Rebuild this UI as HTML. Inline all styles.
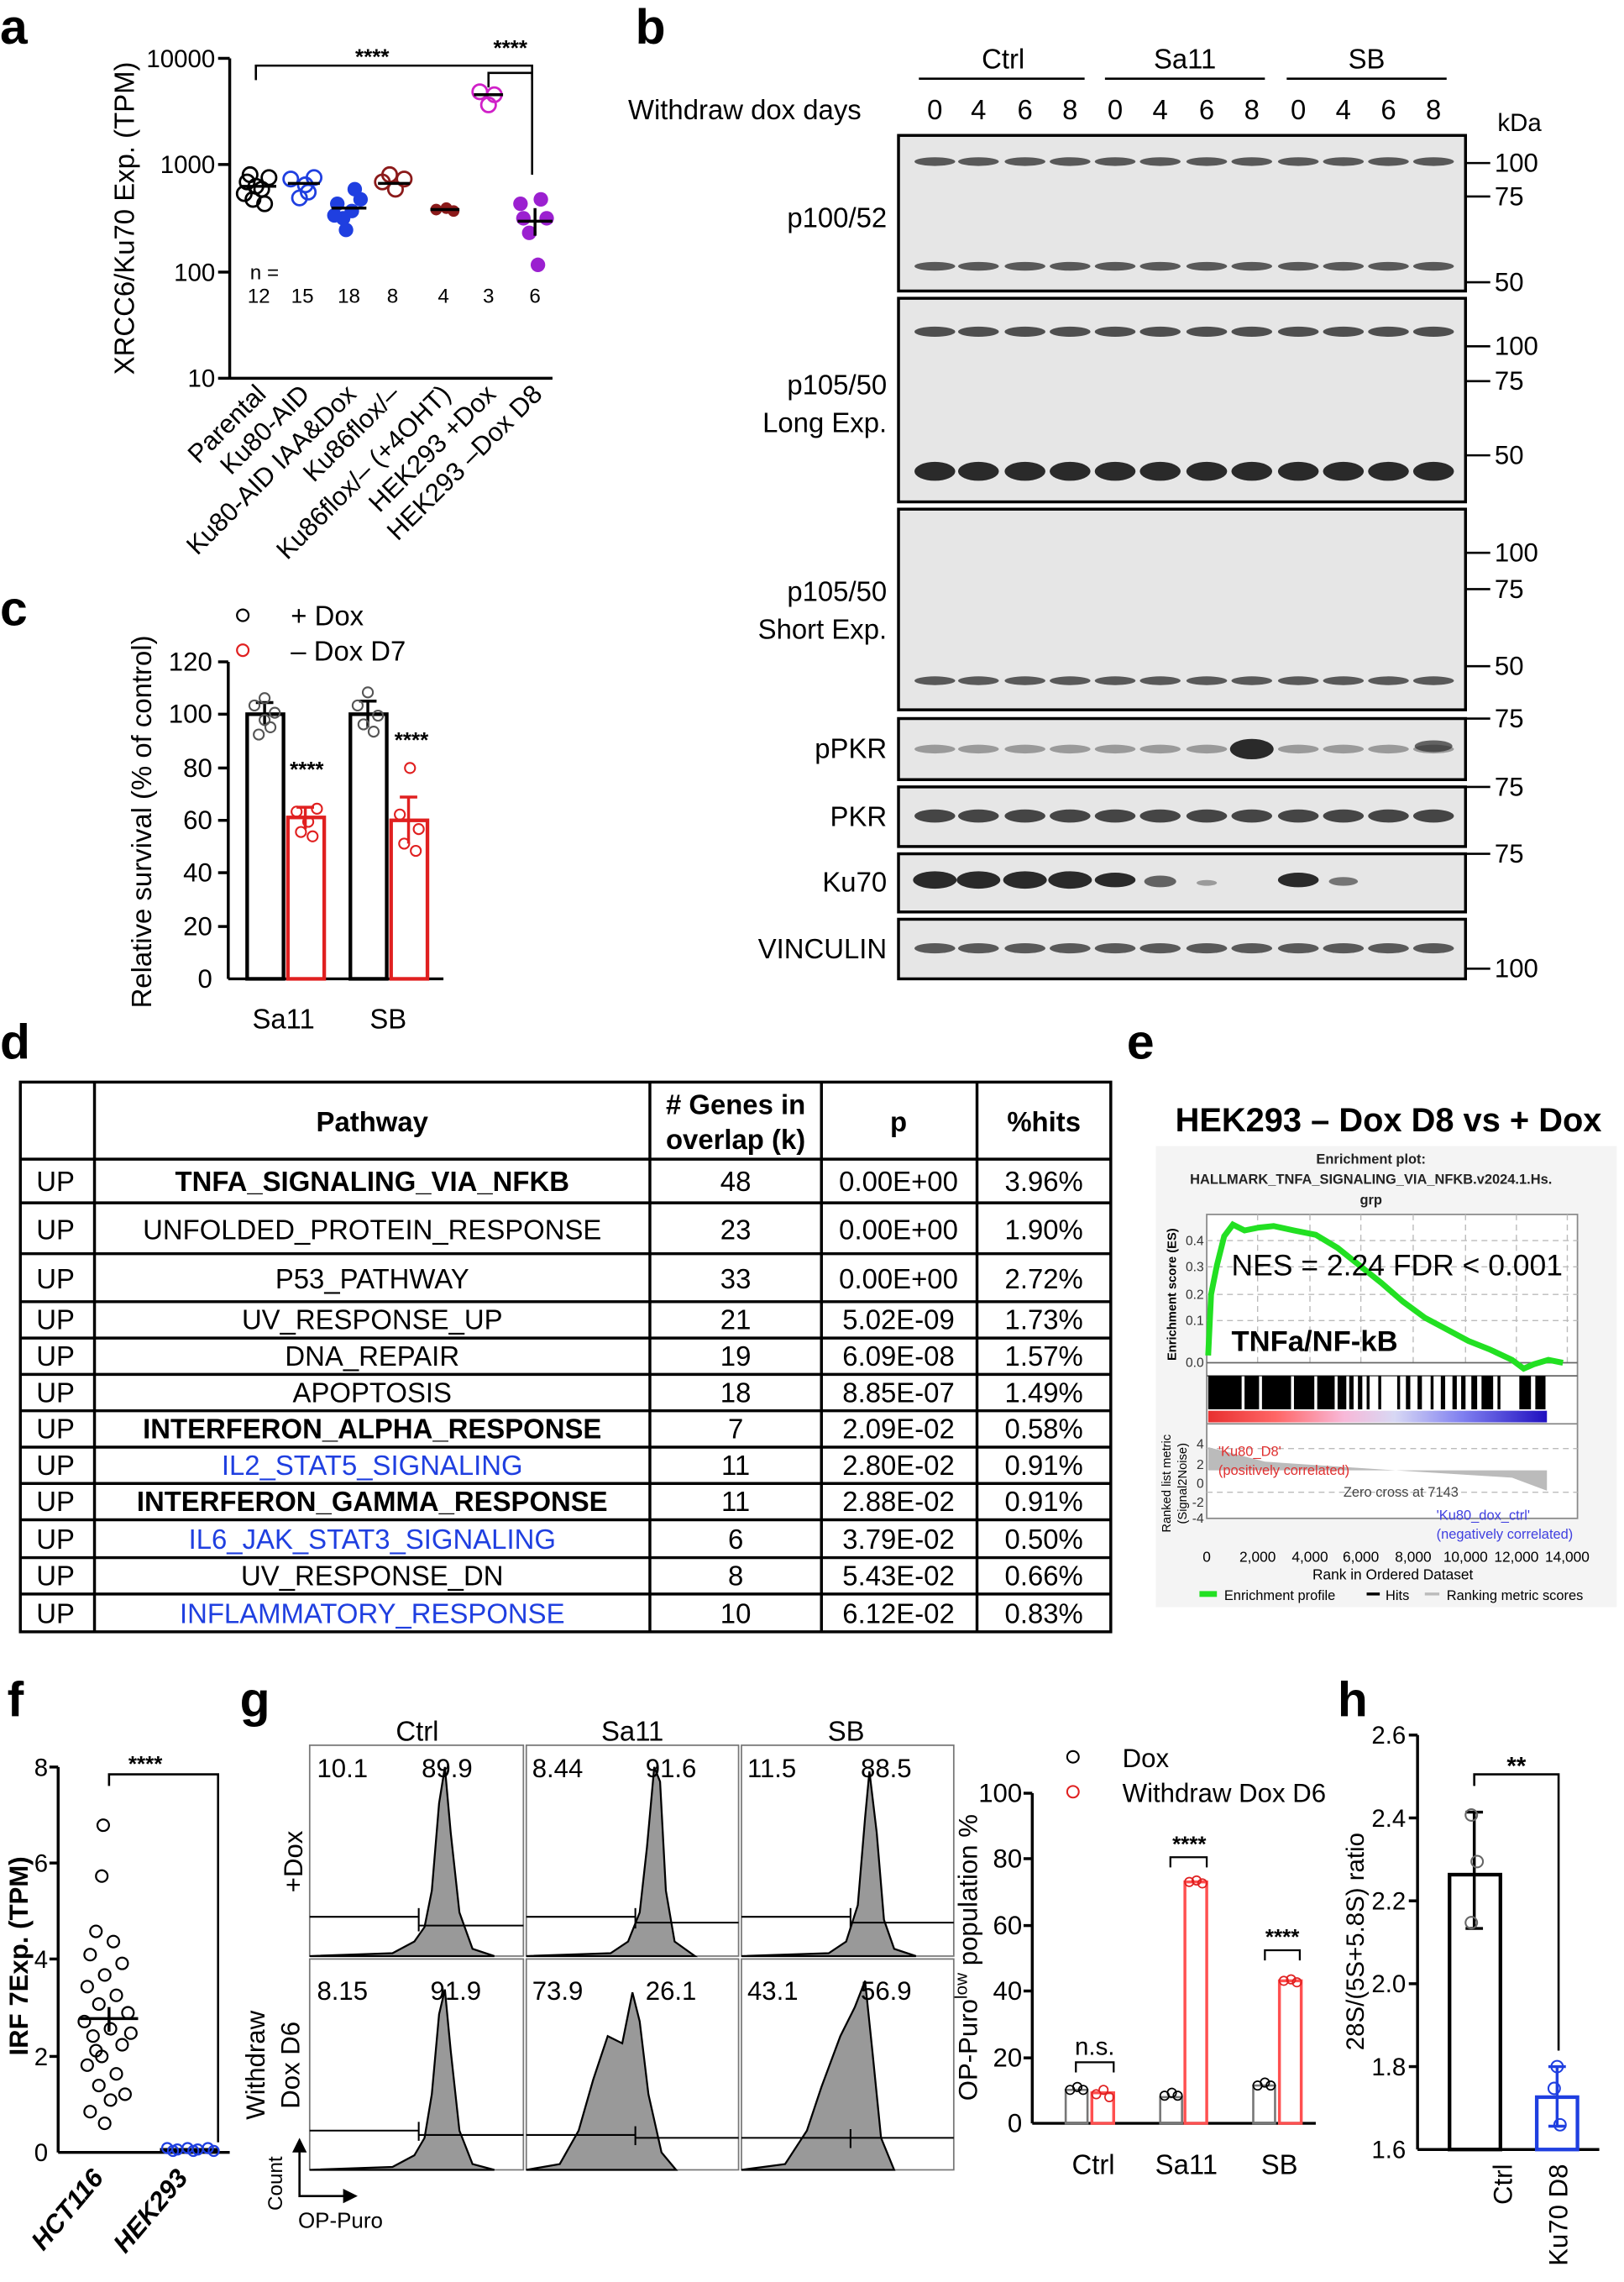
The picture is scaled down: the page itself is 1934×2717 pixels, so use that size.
<!DOCTYPE html>
<html><head><meta charset="utf-8"><style>
html,body{margin:0;padding:0;background:#fff}
svg{display:block}
text{font-family:"Liberation Sans",Arial,sans-serif}
</style></head><body>
<svg width="1934" height="2717" viewBox="0 0 1117 1569" xmlns="http://www.w3.org/2000/svg">
<defs>
<g id="row"><ellipse cx="643" cy="0" rx="14" ry="1"/><ellipse cx="673" cy="0" rx="14" ry="1"/><ellipse cx="705" cy="0" rx="14" ry="1"/><ellipse cx="736" cy="0" rx="14" ry="1"/><ellipse cx="767" cy="0" rx="14" ry="1"/><ellipse cx="798" cy="0" rx="14" ry="1"/><ellipse cx="830" cy="0" rx="14" ry="1"/><ellipse cx="861" cy="0" rx="14" ry="1"/><ellipse cx="893" cy="0" rx="14" ry="1"/><ellipse cx="924" cy="0" rx="14" ry="1"/><ellipse cx="955" cy="0" rx="14" ry="1"/><ellipse cx="986" cy="0" rx="14" ry="1"/></g>
<linearGradient id="cb" x1="0" x2="1"><stop offset="0" stop-color="#e83030"/><stop offset="0.2" stop-color="#f66"/><stop offset="0.4" stop-color="#f8b8d8"/><stop offset="0.55" stop-color="#d8d8f4"/><stop offset="0.75" stop-color="#8080f0"/><stop offset="1" stop-color="#2010c0"/></linearGradient>
</defs>
<rect width="1117" height="1569" fill="#fff"/>
<g font-weight="bold" font-size="34">
<text x="0" y="30">a</text><text x="437" y="30">b</text><text x="0" y="430">c</text>
<text x="0" y="728">d</text><text x="775" y="728">e</text><text x="5" y="1180">f</text>
<text x="165" y="1180">g</text><text x="920" y="1180">h</text></g>

<!-- PANEL A -->
<g stroke="#000" stroke-width="2" fill="none">
<line x1="158" y1="40" x2="158" y2="260"/>
<line x1="150" y1="40" x2="158" y2="40"/><line x1="150" y1="113" x2="158" y2="113"/>
<line x1="150" y1="187" x2="158" y2="187"/><line x1="150" y1="260" x2="158" y2="260"/>
<line x1="158" y1="260" x2="380" y2="260"/>
<polyline points="176,55 176,45 366,45 366,55" stroke-width="1.5"/>
<polyline points="336,60 336,50 366,50 366,120" stroke-width="1.5"/>
</g>
<g font-size="17" text-anchor="end"><text x="148" y="46">10000</text><text x="148" y="119">1000</text><text x="148" y="193">100</text><text x="148" y="266">10</text></g>
<text transform="translate(92,150) rotate(-90)" font-size="19" text-anchor="middle">XRCC6/Ku70 Exp. (TPM)</text>
<text x="256" y="44" font-size="15" text-anchor="middle" font-weight="bold">****</text>
<text x="351" y="38" font-size="15" text-anchor="middle" font-weight="bold">****</text>
<text x="172" y="192" font-size="14">n =</text>
<g font-size="14" text-anchor="middle"><text x="178" y="208">12</text><text x="208" y="208">15</text><text x="240" y="208">18</text><text x="270" y="208">8</text><text x="305" y="208">4</text><text x="336" y="208">3</text><text x="368" y="208">6</text></g>
<g fill="none" stroke-width="1.6">
<g stroke="#000"><circle cx="170" cy="125" r="5"/><circle cx="180" cy="130" r="5"/><circle cx="174" cy="137" r="5"/><circle cx="185" cy="122" r="5"/><circle cx="172" cy="120" r="5"/><circle cx="182" cy="140" r="5"/><circle cx="176" cy="128" r="5"/><circle cx="168" cy="133" r="5"/></g>
<g stroke="#1f3fe0"><circle cx="200" cy="123" r="5"/><circle cx="210" cy="127" r="5"/><circle cx="216" cy="122" r="5"/><circle cx="206" cy="136" r="5"/><circle cx="212" cy="132" r="5"/></g>
<g stroke="#8b1a1a"><circle cx="263" cy="125" r="5"/><circle cx="272" cy="130" r="5"/><circle cx="278" cy="123" r="5"/><circle cx="268" cy="120" r="5"/></g>
<g stroke="#d020c8"><circle cx="330" cy="63" r="5"/><circle cx="340" cy="65" r="5"/><circle cx="336" cy="72" r="5"/></g>
</g>
<g fill="#1f3fe0"><circle cx="232" cy="140" r="5"/><circle cx="242" cy="145" r="5"/><circle cx="236" cy="150" r="5"/><circle cx="248" cy="137" r="5"/><circle cx="238" cy="158" r="5"/><circle cx="244" cy="130" r="5"/><circle cx="230" cy="148" r="5"/></g>
<g fill="#8b1a1a"><circle cx="300" cy="144" r="4"/><circle cx="307" cy="143" r="4"/><circle cx="312" cy="145" r="4"/></g>
<g fill="#9b20d0"><circle cx="358" cy="140" r="5"/><circle cx="372" cy="137" r="5"/><circle cx="364" cy="160" r="5"/><circle cx="370" cy="182" r="5"/><circle cx="360" cy="150" r="5"/><circle cx="376" cy="150" r="5"/></g>
<g stroke="#000" stroke-width="2"><line x1="166" y1="128" x2="190" y2="128"/><line x1="198" y1="126" x2="220" y2="126"/><line x1="228" y1="143" x2="252" y2="143"/><line x1="260" y1="126" x2="282" y2="126"/><line x1="296" y1="144" x2="316" y2="144"/><line x1="326" y1="65" x2="346" y2="65"/><line x1="356" y1="152" x2="380" y2="152"/><line x1="368" y1="143" x2="368" y2="162"/></g>
<g font-size="18" text-anchor="end">
<text transform="translate(184,272) rotate(-45)">Parental</text>
<text transform="translate(214,272) rotate(-45)">Ku80-AID</text>
<text transform="translate(246,272) rotate(-45)">Ku80-AID IAA&amp;Dox</text>
<text transform="translate(276,272) rotate(-45)">Ku86flox/–</text>
<text transform="translate(311,272) rotate(-45)">Ku86flox/– (+4OHT)</text>
<text transform="translate(342,272) rotate(-45)">HEK293 +Dox</text>
<text transform="translate(374,272) rotate(-45)">HEK293 –Dox D8</text>
</g>

<!-- PANEL B -->
<g font-size="19" text-anchor="middle">
<text x="690" y="47">Ctrl</text><text x="815" y="47">Sa11</text><text x="940" y="47">SB</text></g>
<g stroke="#000" stroke-width="1.5"><line x1="632" y1="54" x2="746" y2="54"/><line x1="760" y1="54" x2="870" y2="54"/><line x1="885" y1="54" x2="995" y2="54"/></g>
<text x="432" y="82" font-size="19">Withdraw dox days</text>
<g font-size="19" text-anchor="middle">
<text x="643" y="82">0</text><text x="673" y="82">4</text><text x="705" y="82">6</text><text x="736" y="82">8</text>
<text x="767" y="82">0</text><text x="798" y="82">4</text><text x="830" y="82">6</text><text x="861" y="82">8</text>
<text x="893" y="82">0</text><text x="924" y="82">4</text><text x="955" y="82">6</text><text x="986" y="82">8</text></g>
<text x="1030" y="90" font-size="17">kDa</text>
<g fill="#e6e6e6" stroke="#000" stroke-width="2">
<rect x="618" y="93" width="390" height="107"/><rect x="618" y="205" width="390" height="140"/>
<rect x="618" y="350" width="390" height="138"/><rect x="618" y="494" width="390" height="42"/>
<rect x="618" y="541" width="390" height="41"/><rect x="618" y="587" width="390" height="40"/>
<rect x="618" y="632" width="390" height="41"/></g>
<g fill="#2a2a2a">
<use href="#row" transform="translate(0,111) scale(1,3)" opacity="0.75"/>
<use href="#row" transform="translate(0,183) scale(1,3)" opacity="0.75"/>
<use href="#row" transform="translate(0,228) scale(1,3.5)" opacity="0.8"/>
<use href="#row" transform="translate(0,324) scale(1,6.5)"/>
<use href="#row" transform="translate(0,468) scale(1,3)" opacity="0.75"/>
<use href="#row" transform="translate(0,515) scale(1,3)" opacity="0.4"/>
<ellipse cx="861" cy="515" rx="15" ry="7"/>
<ellipse cx="986" cy="513" rx="13" ry="4" opacity="0.7"/>
<use href="#row" transform="translate(0,561) scale(1,4.5)" opacity="0.85"/>
<use href="#row" transform="translate(0,652) scale(1,3.5)" opacity="0.75"/>
<ellipse cx="643" cy="605" rx="15" ry="6"/><ellipse cx="673" cy="605" rx="15" ry="6"/><ellipse cx="705" cy="605" rx="15" ry="6"/><ellipse cx="736" cy="605" rx="15" ry="6"/>
<ellipse cx="767" cy="605" rx="14" ry="5"/><ellipse cx="798" cy="606" rx="11" ry="4" opacity="0.7"/><ellipse cx="830" cy="607" rx="7" ry="2" opacity="0.4"/>
<ellipse cx="893" cy="605" rx="14" ry="5"/><ellipse cx="924" cy="606" rx="10" ry="3" opacity="0.6"/>
</g>
<g font-size="19" text-anchor="end">
<text x="610" y="156">p100/52</text><text x="610" y="271">p105/50</text><text x="610" y="297">Long Exp.</text>
<text x="610" y="413">p105/50</text><text x="610" y="439">Short Exp.</text>
<text x="610" y="521">pPKR</text><text x="610" y="568">PKR</text><text x="610" y="613">Ku70</text><text x="610" y="659">VINCULIN</text></g>
<g stroke="#000" stroke-width="1.5">
<line x1="1008" y1="112" x2="1025" y2="112"/><line x1="1008" y1="135" x2="1025" y2="135"/><line x1="1008" y1="194" x2="1025" y2="194"/>
<line x1="1008" y1="238" x2="1025" y2="238"/><line x1="1008" y1="262" x2="1025" y2="262"/><line x1="1008" y1="313" x2="1025" y2="313"/>
<line x1="1008" y1="380" x2="1025" y2="380"/><line x1="1008" y1="405" x2="1025" y2="405"/><line x1="1008" y1="458" x2="1025" y2="458"/>
<line x1="1008" y1="494" x2="1025" y2="494"/><line x1="1008" y1="541" x2="1025" y2="541"/><line x1="1008" y1="587" x2="1025" y2="587"/><line x1="1008" y1="666" x2="1025" y2="666"/></g>
<g font-size="18">
<text x="1028" y="118">100</text><text x="1028" y="141">75</text><text x="1028" y="200">50</text>
<text x="1028" y="244">100</text><text x="1028" y="268">75</text><text x="1028" y="319">50</text>
<text x="1028" y="386">100</text><text x="1028" y="411">75</text><text x="1028" y="464">50</text>
<text x="1028" y="500">75</text><text x="1028" y="547">75</text><text x="1028" y="593">75</text><text x="1028" y="672">100</text></g>

<!-- PANEL C -->
<circle cx="167" cy="423" r="4" fill="none" stroke="#000" stroke-width="1.3"/>
<circle cx="167" cy="447" r="4" fill="none" stroke="#e02020" stroke-width="1.3"/>
<text x="200" y="430" font-size="19">+ Dox</text><text x="200" y="454" font-size="19">– Dox D7</text>
<g stroke="#000" stroke-width="2" fill="none">
<line x1="157" y1="455" x2="157" y2="673"/><line x1="157" y1="673" x2="305" y2="673"/>
<line x1="150" y1="455" x2="157" y2="455"/><line x1="150" y1="491" x2="157" y2="491"/><line x1="150" y1="528" x2="157" y2="528"/><line x1="150" y1="564" x2="157" y2="564"/><line x1="150" y1="600" x2="157" y2="600"/><line x1="150" y1="637" x2="157" y2="637"/>
<rect x="170" y="491" width="25" height="182" stroke-width="2.5"/><rect x="241" y="491" width="25" height="182" stroke-width="2.5"/>
<line x1="182" y1="483" x2="182" y2="499"/><line x1="176" y1="483" x2="188" y2="483"/>
<line x1="253" y1="482" x2="253" y2="500"/><line x1="247" y1="482" x2="259" y2="482"/>
</g>
<g stroke="#e02020" stroke-width="2.5" fill="none"><rect x="198" y="562" width="25" height="111"/><rect x="269" y="564" width="25" height="109"/>
<line x1="210" y1="555" x2="210" y2="570" stroke-width="2"/><line x1="204" y1="555" x2="216" y2="555" stroke-width="2"/>
<line x1="281" y1="548" x2="281" y2="580" stroke-width="2"/><line x1="275" y1="548" x2="287" y2="548" stroke-width="2"/></g>
<g fill="none" stroke="#555" stroke-width="1.2"><circle cx="175" cy="485" r="3.5"/><circle cx="182" cy="495" r="3.5"/><circle cx="189" cy="490" r="3.5"/><circle cx="178" cy="505" r="3.5"/><circle cx="186" cy="500" r="3.5"/><circle cx="182" cy="480" r="3.5"/>
<circle cx="246" cy="485" r="3.5"/><circle cx="253" cy="476" r="3.5"/><circle cx="260" cy="492" r="3.5"/><circle cx="250" cy="498" r="3.5"/><circle cx="257" cy="503" r="3.5"/></g>
<g fill="none" stroke="#e02020" stroke-width="1.2"><circle cx="204" cy="558" r="3.5"/><circle cx="212" cy="565" r="3.5"/><circle cx="218" cy="556" r="3.5"/><circle cx="207" cy="572" r="3.5"/><circle cx="215" cy="575" r="3.5"/>
<circle cx="282" cy="528" r="3.5"/><circle cx="275" cy="560" r="3.5"/><circle cx="288" cy="570" r="3.5"/><circle cx="278" cy="580" r="3.5"/><circle cx="286" cy="585" r="3.5"/></g>
<g font-size="18" text-anchor="end"><text x="146" y="461">120</text><text x="146" y="497">100</text><text x="146" y="534">80</text><text x="146" y="570">60</text><text x="146" y="606">40</text><text x="146" y="643">20</text><text x="146" y="679">0</text></g>
<text x="211" y="534" font-size="15" text-anchor="middle" font-weight="bold">****</text>
<text x="283" y="514" font-size="15" text-anchor="middle" font-weight="bold">****</text>
<text transform="translate(104,565) rotate(-90)" font-size="19" text-anchor="middle">Relative survival (% of control)</text>
<text x="195" y="707" font-size="19" text-anchor="middle">Sa11</text><text x="267" y="707" font-size="19" text-anchor="middle">SB</text>

<!-- PANEL D -->
<g stroke="#000" stroke-width="2" fill="none">
<rect x="14" y="744" width="750" height="378"/>
<line x1="65" y1="744" x2="65" y2="1122"/><line x1="447" y1="744" x2="447" y2="1122"/><line x1="565" y1="744" x2="565" y2="1122"/><line x1="672" y1="744" x2="672" y2="1122"/>
<line x1="14" y1="797" x2="764" y2="797"/><line x1="14" y1="827" x2="764" y2="827"/><line x1="14" y1="862" x2="764" y2="862"/><line x1="14" y1="895" x2="764" y2="895"/>
<line x1="14" y1="920" x2="764" y2="920"/><line x1="14" y1="945" x2="764" y2="945"/><line x1="14" y1="970" x2="764" y2="970"/><line x1="14" y1="995" x2="764" y2="995"/>
<line x1="14" y1="1020" x2="764" y2="1020"/><line x1="14" y1="1045" x2="764" y2="1045"/><line x1="14" y1="1071" x2="764" y2="1071"/><line x1="14" y1="1096" x2="764" y2="1096"/>
</g>
<g font-size="19" font-weight="bold" text-anchor="middle"><text x="256" y="778">Pathway</text><text x="506" y="766">#&#160;Genes in</text><text x="506" y="790">overlap (k)</text><text x="618" y="778">p</text><text x="718" y="778">%hits</text></g>
<g font-size="19" text-anchor="middle">
<g text-anchor="start"><text x="25" y="819">UP</text><text x="25" y="852">UP</text><text x="25" y="886">UP</text><text x="25" y="914">UP</text><text x="25" y="939">UP</text><text x="25" y="964">UP</text><text x="25" y="989">UP</text><text x="25" y="1014">UP</text><text x="25" y="1039">UP</text><text x="25" y="1065">UP</text><text x="25" y="1090">UP</text><text x="25" y="1116">UP</text></g>
<text x="256" y="819" font-weight="bold">TNFA_SIGNALING_VIA_NFKB</text>
<text x="256" y="852">UNFOLDED_PROTEIN_RESPONSE</text>
<text x="256" y="886">P53_PATHWAY</text>
<text x="256" y="914">UV_RESPONSE_UP</text>
<text x="256" y="939">DNA_REPAIR</text>
<text x="256" y="964">APOPTOSIS</text>
<text x="256" y="989" font-weight="bold">INTERFERON_ALPHA_RESPONSE</text>
<text x="256" y="1014" fill="#1f3fe0">IL2_STAT5_SIGNALING</text>
<text x="256" y="1039" font-weight="bold">INTERFERON_GAMMA_RESPONSE</text>
<text x="256" y="1065" fill="#1f3fe0">IL6_JAK_STAT3_SIGNALING</text>
<text x="256" y="1090">UV_RESPONSE_DN</text>
<text x="256" y="1116" fill="#1f3fe0">INFLAMMATORY_RESPONSE</text>
<text x="506" y="819">48</text><text x="506" y="852">23</text><text x="506" y="886">33</text><text x="506" y="914">21</text><text x="506" y="939">19</text><text x="506" y="964">18</text><text x="506" y="989">7</text><text x="506" y="1014">11</text><text x="506" y="1039">11</text><text x="506" y="1065">6</text><text x="506" y="1090">8</text><text x="506" y="1116">10</text>
<text x="618" y="819">0.00E+00</text><text x="618" y="852">0.00E+00</text><text x="618" y="886">0.00E+00</text><text x="618" y="914">5.02E-09</text><text x="618" y="939">6.09E-08</text><text x="618" y="964">8.85E-07</text><text x="618" y="989">2.09E-02</text><text x="618" y="1014">2.80E-02</text><text x="618" y="1039">2.88E-02</text><text x="618" y="1065">3.79E-02</text><text x="618" y="1090">5.43E-02</text><text x="618" y="1116">6.12E-02</text>
<text x="718" y="819">3.96%</text><text x="718" y="852">1.90%</text><text x="718" y="886">2.72%</text><text x="718" y="914">1.73%</text><text x="718" y="939">1.57%</text><text x="718" y="964">1.49%</text><text x="718" y="989">0.58%</text><text x="718" y="1014">0.91%</text><text x="718" y="1039">0.91%</text><text x="718" y="1065">0.50%</text><text x="718" y="1090">0.66%</text><text x="718" y="1116">0.83%</text>
</g>

<!-- PANEL E -->
<text x="955" y="778" font-size="23" font-weight="bold" text-anchor="middle">HEK293 – Dox D8 vs + Dox</text>
<rect x="795" y="788" width="317" height="317" fill="#f4f4f4"/>
<g font-size="9.5" font-weight="bold" text-anchor="middle" fill="#222"><text x="943" y="800">Enrichment plot:</text><text x="943" y="814">HALLMARK_TNFA_SIGNALING_VIA_NFKB.v2024.1.Hs.</text><text x="943" y="828">grp</text></g>
<rect x="830" y="835" width="255" height="209" fill="#fff" stroke="#888"/>
<g stroke="#bbb" stroke-dasharray="4,3" stroke-width="0.8"><line x1="865" y1="835" x2="865" y2="937"/><line x1="901" y1="835" x2="901" y2="937"/><line x1="936" y1="835" x2="936" y2="937"/><line x1="972" y1="835" x2="972" y2="937"/><line x1="1008" y1="835" x2="1008" y2="937"/><line x1="1043" y1="835" x2="1043" y2="937"/><line x1="1078" y1="835" x2="1078" y2="937"/>
<line x1="830" y1="853" x2="1085" y2="853"/><line x1="830" y1="871" x2="1085" y2="871"/><line x1="830" y1="890" x2="1085" y2="890"/><line x1="830" y1="908" x2="1085" y2="908"/>
<line x1="830" y1="996" x2="1085" y2="996"/><line x1="830" y1="1026" x2="1085" y2="1026"/></g>
<line x1="830" y1="937" x2="1085" y2="937" stroke="#666"/>
<line x1="830" y1="946" x2="1085" y2="946" stroke="#666"/>
<polyline fill="none" stroke="#22e022" stroke-width="4" points="831,932 833,890 837,870 842,850 848,842 856,846 866,844 876,843 890,846 905,849 920,858 935,870 950,882 965,895 980,906 995,914 1010,922 1025,928 1040,935 1048,941 1055,938 1065,935 1075,937"/>
<g fill="#000">
<rect x="831" y="946" width="23" height="23"/><rect x="856" y="946" width="10" height="23"/><rect x="868" y="946" width="20" height="23"/><rect x="890" y="946" width="14" height="23"/><rect x="906" y="946" width="12" height="23"/><rect x="920" y="946" width="6" height="23"/><rect x="928" y="946" width="3" height="23"/><rect x="934" y="946" width="3" height="23"/><rect x="940" y="946" width="2" height="23"/><rect x="948" y="946" width="2" height="23"/><rect x="961" y="946" width="2" height="23"/><rect x="967" y="946" width="3" height="23"/><rect x="975" y="946" width="3" height="23"/><rect x="984" y="946" width="2" height="23"/><rect x="991" y="946" width="3" height="23"/><rect x="999" y="946" width="3" height="23"/><rect x="1005" y="946" width="3" height="23"/><rect x="1012" y="946" width="4" height="23"/><rect x="1019" y="946" width="8" height="23"/><rect x="1030" y="946" width="2" height="23"/><rect x="1045" y="946" width="8" height="23"/><rect x="1056" y="946" width="7" height="23"/></g>
<rect x="831" y="970" width="233" height="8" fill="url(#cb)"/>
<line x1="830" y1="979" x2="1085" y2="979" stroke="#888"/>
<path d="M831 995 L870 1005 L960 1011 L1040 1016 L1064 1025 L1064 1040 L1064 1011 L831 1011Z" fill="#bbb"/>
<g font-size="9" fill="#333" text-anchor="end"><text x="828" y="856">0.4</text><text x="828" y="874">0.3</text><text x="828" y="893">0.2</text><text x="828" y="911">0.1</text><text x="828" y="940">0.0</text>
<text x="828" y="996">4</text><text x="828" y="1010">2</text><text x="828" y="1023">0</text><text x="828" y="1036">-2</text><text x="828" y="1047">-4</text></g>
<text transform="translate(809,890) rotate(-90)" font-size="8.5" font-weight="bold" text-anchor="middle">Enrichment score (ES)</text>
<text transform="translate(805,1020) rotate(-90)" font-size="8.5" text-anchor="middle">Ranked list metric</text>
<text transform="translate(816,1020) rotate(-90)" font-size="8.5" text-anchor="middle">(Signal2Noise)</text>
<text x="847" y="877" font-size="20.5">NES = 2.24  FDR &lt; 0.001</text>
<text x="847" y="929" font-size="20" font-weight="bold">TNFa/NF-kB</text>
<text x="838" y="1001" font-size="9.5" fill="#e03030">'Ku80_D8'</text><text x="838" y="1014" font-size="9.5" fill="#e03030">(positively correlated)</text>
<text x="924" y="1029" font-size="9.5" fill="#444">Zero cross at 7143</text>
<text x="988" y="1045" font-size="9.5" fill="#4040e0">'Ku80_dox_ctrl'</text><text x="988" y="1058" font-size="9.5" fill="#4040e0">(negatively correlated)</text>
<g font-size="10" text-anchor="middle"><text x="830" y="1074">0</text><text x="865" y="1074">2,000</text><text x="901" y="1074">4,000</text><text x="936" y="1074">6,000</text><text x="972" y="1074">8,000</text><text x="1008" y="1074">10,000</text><text x="1043" y="1074">12,000</text><text x="1078" y="1074">14,000</text>
<text x="958" y="1086">Rank in Ordered Dataset</text></g>
<rect x="825" y="1094" width="12" height="4" fill="#22e022"/><text x="842" y="1100" font-size="9.5">Enrichment profile</text>
<rect x="940" y="1095" width="9" height="2" fill="#000"/><text x="953" y="1100" font-size="9.5">Hits</text>
<rect x="980" y="1095" width="10" height="2" fill="#bbb"/><text x="995" y="1100" font-size="9.5">Ranking metric scores</text>

<!-- PANEL F -->
<g stroke="#000" stroke-width="2" fill="none">
<line x1="40" y1="1215" x2="40" y2="1480"/><line x1="40" y1="1480" x2="158" y2="1480"/>
<line x1="34" y1="1215" x2="40" y2="1215"/><line x1="34" y1="1281" x2="40" y2="1281"/><line x1="34" y1="1347" x2="40" y2="1347"/><line x1="34" y1="1414" x2="40" y2="1414"/>
<polyline points="75,1228 75,1220 150,1220 150,1473" stroke-width="1.5"/>
<line x1="55" y1="1388" x2="95" y2="1388"/><line x1="75" y1="1380" x2="75" y2="1397"/>
<line x1="110" y1="1478" x2="150" y2="1478"/>
</g>
<g font-size="17" text-anchor="end"><text x="33" y="1221">8</text><text x="33" y="1287">6</text><text x="33" y="1353">4</text><text x="33" y="1420">2</text><text x="33" y="1486">0</text></g>
<text x="100" y="1218" font-size="15" font-weight="bold" text-anchor="middle">****</text>
<text transform="translate(19,1345) rotate(-90)" font-size="18" font-weight="bold" text-anchor="middle">IRF 7Exp. (TPM)</text>
<g fill="none" stroke="#000" stroke-width="1.3">
<circle cx="71" cy="1255" r="4"/><circle cx="70" cy="1290" r="4"/><circle cx="66" cy="1328" r="4"/><circle cx="78" cy="1335" r="4"/><circle cx="62" cy="1344" r="4"/><circle cx="84" cy="1350" r="4"/><circle cx="72" cy="1358" r="4"/><circle cx="60" cy="1366" r="4"/><circle cx="80" cy="1372" r="4"/><circle cx="68" cy="1378" r="4"/><circle cx="88" cy="1384" r="4"/><circle cx="58" cy="1390" r="4"/><circle cx="76" cy="1395" r="4"/><circle cx="64" cy="1400" r="4"/><circle cx="84" cy="1406" r="4"/><circle cx="70" cy="1414" r="4"/><circle cx="60" cy="1420" r="4"/><circle cx="80" cy="1426" r="4"/><circle cx="68" cy="1434" r="4"/><circle cx="76" cy="1444" r="4"/><circle cx="62" cy="1452" r="4"/><circle cx="86" cy="1440" r="4"/><circle cx="72" cy="1460" r="4"/><circle cx="66" cy="1410" r="4"/><circle cx="90" cy="1398" r="4"/></g>
<g fill="none" stroke="#1f3fe0" stroke-width="1.3"><circle cx="115" cy="1477" r="3.5"/><circle cx="122" cy="1478" r="3.5"/><circle cx="129" cy="1477" r="3.5"/><circle cx="136" cy="1478" r="3.5"/><circle cx="143" cy="1477" r="3.5"/><circle cx="119" cy="1479" r="3.5"/><circle cx="133" cy="1479" r="3.5"/><circle cx="147" cy="1479" r="3.5"/></g>
<g font-size="18" font-weight="bold" font-style="italic" text-anchor="end">
<text transform="translate(72,1498) rotate(-50)">HCT116</text><text transform="translate(130,1498) rotate(-50)">HEK293</text></g>

<!-- PANEL G -->
<g font-size="19" text-anchor="middle"><text x="287" y="1197">Ctrl</text><text x="435" y="1197">Sa11</text><text x="582" y="1197">SB</text></g>
<g fill="#fff" stroke="#777" stroke-width="1">
<rect x="213" y="1200" width="147" height="145"/><rect x="362" y="1200" width="146" height="145"/><rect x="510" y="1200" width="146" height="145"/>
<rect x="213" y="1347" width="147" height="145"/><rect x="362" y="1347" width="146" height="145"/><rect x="510" y="1347" width="146" height="145"/></g>
<g fill="#999" stroke="#000" stroke-width="1.3">
<path d="M213 1345 L270 1343 L285 1335 L292 1325 L297 1300 L302 1240 L306 1215 L310 1260 L316 1315 L325 1340 L340 1345Z"/>
<path d="M362 1345 L420 1343 L432 1335 L440 1315 L445 1270 L450 1215 L454 1225 L458 1300 L464 1335 L478 1345Z"/>
<path d="M510 1345 L570 1343 L582 1335 L590 1310 L595 1250 L598 1218 L603 1260 L608 1320 L615 1340 L630 1345Z"/>
<path d="M213 1492 L270 1490 L285 1482 L292 1470 L297 1440 L302 1385 L306 1368 L310 1410 L316 1465 L325 1488 L340 1492Z"/>
<path d="M362 1492 L385 1488 L398 1465 L408 1430 L418 1400 L428 1405 L435 1370 L440 1390 L446 1440 L455 1480 L465 1492Z"/>
<path d="M510 1492 L540 1488 L555 1465 L565 1435 L578 1400 L588 1380 L595 1362 L600 1410 L606 1470 L615 1492Z"/>
</g>
<g stroke="#000" stroke-width="1.2">
<line x1="213" y1="1318" x2="288" y2="1318"/><line x1="288" y1="1324" x2="360" y2="1324"/><line x1="288" y1="1312" x2="288" y2="1328"/>
<line x1="362" y1="1318" x2="437" y2="1318"/><line x1="437" y1="1322" x2="508" y2="1322"/><line x1="437" y1="1312" x2="437" y2="1326"/>
<line x1="510" y1="1318" x2="585" y2="1318"/><line x1="585" y1="1322" x2="656" y2="1322"/><line x1="585" y1="1312" x2="585" y2="1326"/>
<line x1="213" y1="1465" x2="288" y2="1465"/><line x1="288" y1="1468" x2="360" y2="1468"/><line x1="288" y1="1459" x2="288" y2="1472"/>
<line x1="362" y1="1468" x2="437" y2="1468"/><line x1="437" y1="1470" x2="508" y2="1470"/><line x1="437" y1="1462" x2="437" y2="1475"/>
<line x1="510" y1="1470" x2="585" y2="1470"/><line x1="585" y1="1470" x2="656" y2="1470"/><line x1="585" y1="1464" x2="585" y2="1477"/></g>
<g font-size="18"><text x="218" y="1222">10.1</text><text x="290" y="1222">89.9</text><text x="366" y="1222">8.44</text><text x="444" y="1222">91.6</text><text x="514" y="1222">11.5</text><text x="592" y="1222">88.5</text>
<text x="218" y="1375">8.15</text><text x="296" y="1375">91.9</text><text x="366" y="1375">73.9</text><text x="444" y="1375">26.1</text><text x="514" y="1375">43.1</text><text x="592" y="1375">56.9</text></g>
<text transform="translate(208,1280) rotate(-90)" font-size="18" text-anchor="middle">+Dox</text>
<text transform="translate(182,1420) rotate(-90)" font-size="18" text-anchor="middle">Withdraw</text>
<text transform="translate(206,1420) rotate(-90)" font-size="18" text-anchor="middle">Dox D6</text>
<g stroke="#000" stroke-width="1.5" fill="none"><polyline points="206,1478 206,1510 238,1510"/></g>
<path d="M201 1480 L206 1470 L211 1480Z M236 1505 L246 1510 L236 1515Z"/>
<text transform="translate(194,1520) rotate(-90)" font-size="14">Count</text>
<text x="205" y="1532" font-size="15">OP-Puro</text>
<circle cx="738" cy="1208" r="4" fill="none" stroke="#000" stroke-width="1.2"/><circle cx="738" cy="1232" r="4" fill="none" stroke="#e02020" stroke-width="1.2"/>
<text x="772" y="1215" font-size="18">Dox</text><text x="772" y="1239" font-size="18">Withdraw Dox D6</text>
<g stroke="#000" stroke-width="2" fill="none">
<line x1="710" y1="1233" x2="710" y2="1460"/><line x1="710" y1="1460" x2="905" y2="1460"/>
<line x1="704" y1="1233" x2="710" y2="1233"/><line x1="704" y1="1278" x2="710" y2="1278"/><line x1="704" y1="1324" x2="710" y2="1324"/><line x1="704" y1="1369" x2="710" y2="1369"/><line x1="704" y1="1415" x2="710" y2="1415"/>
<rect x="733" y="1437" width="15" height="23" stroke="#777" stroke-width="1.5"/>
<rect x="798" y="1442" width="15" height="18" stroke="#777" stroke-width="1.5"/>
<rect x="862" y="1434" width="15" height="26" stroke="#777" stroke-width="1.5"/>
<polyline points="740,1425 740,1418 766,1418 766,1425" stroke-width="1.3"/>
<polyline points="805,1284 805,1277 830,1277 830,1284" stroke-width="1.3"/>
<polyline points="870,1348 870,1341 894,1341 894,1348" stroke-width="1.3"/>
</g>
<g fill="none" stroke="#ff5050" stroke-width="2"><rect x="751" y="1439" width="15" height="21"/><rect x="815" y="1294" width="15" height="166"/><rect x="880" y="1362" width="15" height="98"/></g>
<g fill="none" stroke="#e02020" stroke-width="1"><circle cx="754" cy="1440" r="3"/><circle cx="759" cy="1437" r="3"/><circle cx="763" cy="1442" r="3"/><circle cx="818" cy="1294" r="3"/><circle cx="823" cy="1293" r="3"/><circle cx="827" cy="1295" r="3"/><circle cx="883" cy="1362" r="3"/><circle cx="888" cy="1361" r="3"/><circle cx="892" cy="1363" r="3"/></g>
<g fill="none" stroke="#000" stroke-width="1"><circle cx="736" cy="1437" r="3"/><circle cx="741" cy="1435" r="3"/><circle cx="745" cy="1437" r="3"/><circle cx="801" cy="1441" r="3"/><circle cx="806" cy="1439" r="3"/><circle cx="810" cy="1441" r="3"/><circle cx="865" cy="1434" r="3"/><circle cx="870" cy="1432" r="3"/><circle cx="874" cy="1434" r="3"/></g>
<g font-size="18" text-anchor="end"><text x="703" y="1239">100</text><text x="703" y="1284">80</text><text x="703" y="1330">60</text><text x="703" y="1375">40</text><text x="703" y="1421">20</text><text x="703" y="1466">0</text></g>
<text x="753" y="1413" font-size="17" text-anchor="middle">n.s.</text>
<text x="818" y="1273" font-size="15" font-weight="bold" text-anchor="middle">****</text>
<text x="882" y="1337" font-size="15" font-weight="bold" text-anchor="middle">****</text>
<text transform="translate(672,1346) rotate(-90)" font-size="18" text-anchor="middle">OP-Puro<tspan font-size="12" dy="-7">low</tspan><tspan dy="7"> population %</tspan></text>
<g font-size="19" text-anchor="middle"><text x="752" y="1495">Ctrl</text><text x="816" y="1495">Sa11</text><text x="880" y="1495">SB</text></g>

<!-- PANEL H -->
<g stroke="#000" stroke-width="2" fill="none">
<line x1="975" y1="1193" x2="975" y2="1478"/><line x1="975" y1="1478" x2="1100" y2="1478"/>
<line x1="969" y1="1193" x2="975" y2="1193"/><line x1="969" y1="1250" x2="975" y2="1250"/><line x1="969" y1="1307" x2="975" y2="1307"/><line x1="969" y1="1364" x2="975" y2="1364"/><line x1="969" y1="1421" x2="975" y2="1421"/>
<rect x="997" y="1289" width="35" height="189" stroke-width="2.5"/>
<line x1="1014" y1="1246" x2="1014" y2="1326"/><line x1="1008" y1="1246" x2="1020" y2="1246"/><line x1="1008" y1="1326" x2="1020" y2="1326"/>
<polyline points="1014,1228 1014,1220 1072,1220 1072,1410" stroke-width="1.5"/>
</g>
<g fill="none" stroke="#1f3fe0" stroke-width="2.5"><rect x="1057" y="1442" width="28" height="36"/>
<line x1="1071" y1="1421" x2="1071" y2="1462" stroke-width="2"/><line x1="1065" y1="1421" x2="1077" y2="1421" stroke-width="2"/><line x1="1065" y1="1462" x2="1077" y2="1462" stroke-width="2"/></g>
<g fill="none" stroke="#666" stroke-width="1.2"><circle cx="1012" cy="1248" r="4"/><circle cx="1016" cy="1280" r="4"/><circle cx="1012" cy="1322" r="4"/></g>
<g fill="none" stroke="#1f3fe0" stroke-width="1.2"><circle cx="1071" cy="1421" r="4"/><circle cx="1069" cy="1436" r="4"/><circle cx="1073" cy="1461" r="4"/></g>
<g font-size="17" text-anchor="end"><text x="967" y="1199">2.6</text><text x="967" y="1256">2.4</text><text x="967" y="1313">2.2</text><text x="967" y="1370">2.0</text><text x="967" y="1427">1.8</text><text x="967" y="1484">1.6</text></g>
<text x="1043" y="1220" font-size="17" font-weight="bold" text-anchor="middle">**</text>
<text transform="translate(938,1335) rotate(-90)" font-size="17" text-anchor="middle">28S/(5S+5.8S) ratio</text>
<text transform="translate(1040,1488) rotate(-90)" font-size="18" text-anchor="end">Ctrl</text>
<text transform="translate(1078,1488) rotate(-90)" font-size="18" text-anchor="end">Ku70 D8</text>
</svg>
</body></html>
